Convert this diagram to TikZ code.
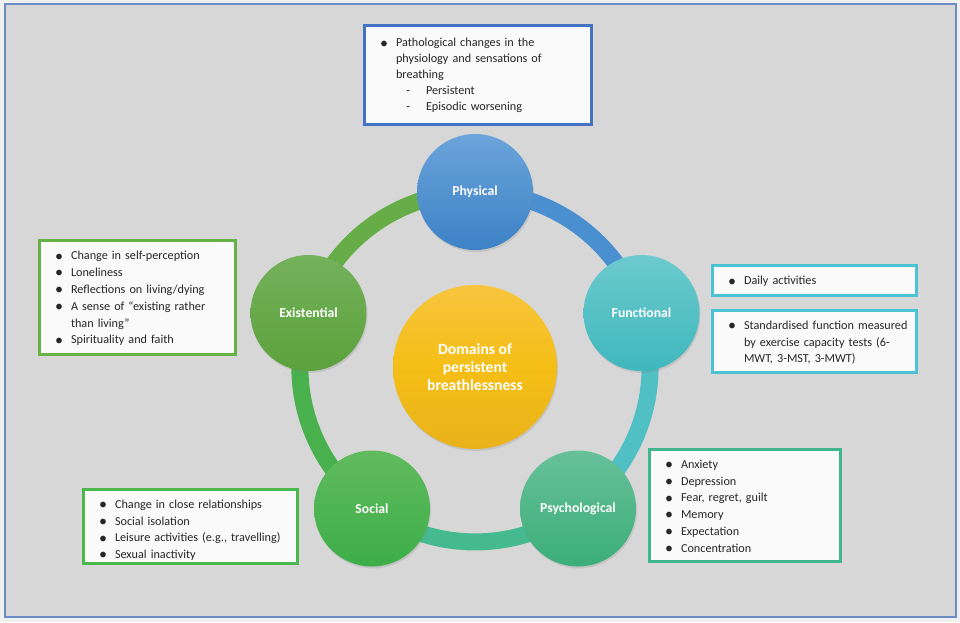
\documentclass[tikz,border=0pt]{standalone}
\usepackage{fontspec}
\setmainfont{Carlito}
\usepackage{enumitem}
\usepackage{tikz}
\usetikzlibrary{shadows,backgrounds}
\usepackage{xcolor}
\definecolor{dmpage}{HTML}{F0F0F0}
\definecolor{dmbg}{HTML}{D7D7D7}
\definecolor{dmframe}{HTML}{6B8CC4}
\definecolor{dmboxfill}{HTML}{FAFAFA}
\definecolor{dmtext}{HTML}{262626}
\definecolor{phyblue}{HTML}{4A8FD0}
\definecolor{phylight}{HTML}{6BA4DA}
\definecolor{phydark}{HTML}{3C82C6}
\definecolor{funteal}{HTML}{50C0C4}
\definecolor{funlight}{HTML}{6CCACD}
\definecolor{fundark}{HTML}{3FB7BD}
\definecolor{psygreen}{HTML}{45BA90}
\definecolor{psylight}{HTML}{68C199}
\definecolor{psydark}{HTML}{3BAE78}
\definecolor{socgreen}{HTML}{48B04D}
\definecolor{soclight}{HTML}{61BB5E}
\definecolor{socdark}{HTML}{3CAE47}
\definecolor{exigreen}{HTML}{66AC47}
\definecolor{exilight}{HTML}{74B25B}
\definecolor{exidark}{HTML}{5BA13C}
\definecolor{coreyellow}{HTML}{F5BE16}
\definecolor{corelight}{HTML}{F7C53E}
\definecolor{coredark}{HTML}{E9B21C}
\definecolor{boxblue}{HTML}{4472C4}
\definecolor{boxgreen}{HTML}{66B247}
\definecolor{boxteal}{HTML}{4CC3D2}
\definecolor{boxsea}{HTML}{3FB68C}
\definecolor{boxsoc}{HTML}{4BB84D}
\newcommand{\dmbullet}{\raisebox{-1.2pt}{\fontsize{16}{16}\selectfont\textbullet}}
\setlist[itemize,1]{nosep, leftmargin=26.5pt, labelsep=8pt, label=\dmbullet}
\setlist[itemize,2]{nosep, leftmargin=30pt, labelsep=16pt, label=-}
% list inside a box, lifted a little
\newcommand{\boxlist}[2][6pt]{\begin{itemize}#2\end{itemize}\par\vspace{#1}}
\tikzstyle{domaincircle} = [circle, minimum size=116pt, inner sep=0pt, text=white, font=\fontsize{13.7}{16}\selectfont\bfseries, drop shadow={opacity=0.22, shadow xshift=1pt, shadow yshift=-2pt}]
\tikzstyle{infobox} = [rectangle, line width=3pt, fill=dmboxfill, inner xsep=5pt, inner ysep=2pt, align=left, text=dmtext, font=\fontsize{12.2}{16.8}\selectfont]
\tikzstyle{ring} = [line width=17pt]

\begin{document}
\begin{tikzpicture}[x=1pt, y=-1pt]
\useasboundingbox (0,0) rectangle (960,622);

% Domain circles
\node[domaincircle, top color=phylight, bottom color=phydark] (phy) at (475,192) {Physical};
\node[domaincircle, top color=funlight, bottom color=fundark] (fun) at (641.5,313) {Functional};
\node[domaincircle, top color=psylight, bottom color=psydark] (psy) at (578,508.5) {Psychological};
\node[domaincircle, top color=soclight, bottom color=socdark] (soc) at (372,508.5) {Social};
\node[domaincircle, top color=exilight, bottom color=exidark] (exi) at (308.5,313) {Existential};

% Centre circle
\node[domaincircle, minimum size=164pt, top color=corelight, bottom color=coredark, middle color=coreyellow, font=\fontsize{15.6}{18}\selectfont\bfseries, align=center] (core) at (475,367) {Domains of\\persistent\\breathlessness};

% Frame and ring behind the circles
\begin{scope}[on background layer]
\fill[dmpage] (0,0) rectangle (960,622);
\draw[dmframe, line width=2.5pt, fill=dmbg] (5,4) rectangle (956,617);
\foreach \n/\a/\c in {phy/-90/phyblue, fun/-18/funteal, psy/54/psygreen, soc/126/socgreen, exi/198/exigreen}
  \draw[ring, \c] (\n.center) arc[start angle=\a, end angle=\a+72, radius=175];
\end{scope}

% Physical box
\node[infobox, draw=boxblue, text width=217pt, minimum height=99pt, font=\fontsize{12.2}{16}\selectfont] (phybox) at (478,75) {
\boxlist{
\item Pathological changes in the\newline physiology and sensations of\newline breathing
  \begin{itemize}
  \item Persistent
  \item Episodic worsening
  \end{itemize}}};

% Existential box
\node[infobox, draw=boxgreen, text width=186pt, minimum height=114pt] (exibox) at (137.5,297.5) {
\boxlist{
\item Change in self-perception
\item Loneliness
\item Reflections on living/dying
\item A sense of ``existing rather\newline than living''
\item Spirituality and faith}};

% Functional boxes
\node[infobox, draw=boxteal, text width=194pt, minimum height=30pt] (funbox) at (814.5,280.5) {
\boxlist{
\item Daily activities}};
\node[infobox, draw=boxteal, text width=194pt, minimum height=60pt] (funbox2) at (814.5,341.5) {
\boxlist{
\item Standardised function measured\newline by exercise capacity tests (6-\newline MWT, 3-MST, 3-MWT)}};

% Psychological box
\node[infobox, draw=boxsea, text width=181pt, minimum height=112pt] (psybox) at (745,505.5) {
\boxlist{
\item Anxiety
\item Depression
\item Fear, regret, guilt
\item Memory
\item Expectation
\item Concentration}};

% Social box
\node[infobox, draw=boxsoc, text width=204pt, minimum height=74pt] (socbox) at (190.5,526.5) {
\boxlist[1pt]{
\item Change in close relationships
\item Social isolation
\item Leisure activities (e.g., travelling)
\item Sexual inactivity}};
\end{tikzpicture}
\end{document}
